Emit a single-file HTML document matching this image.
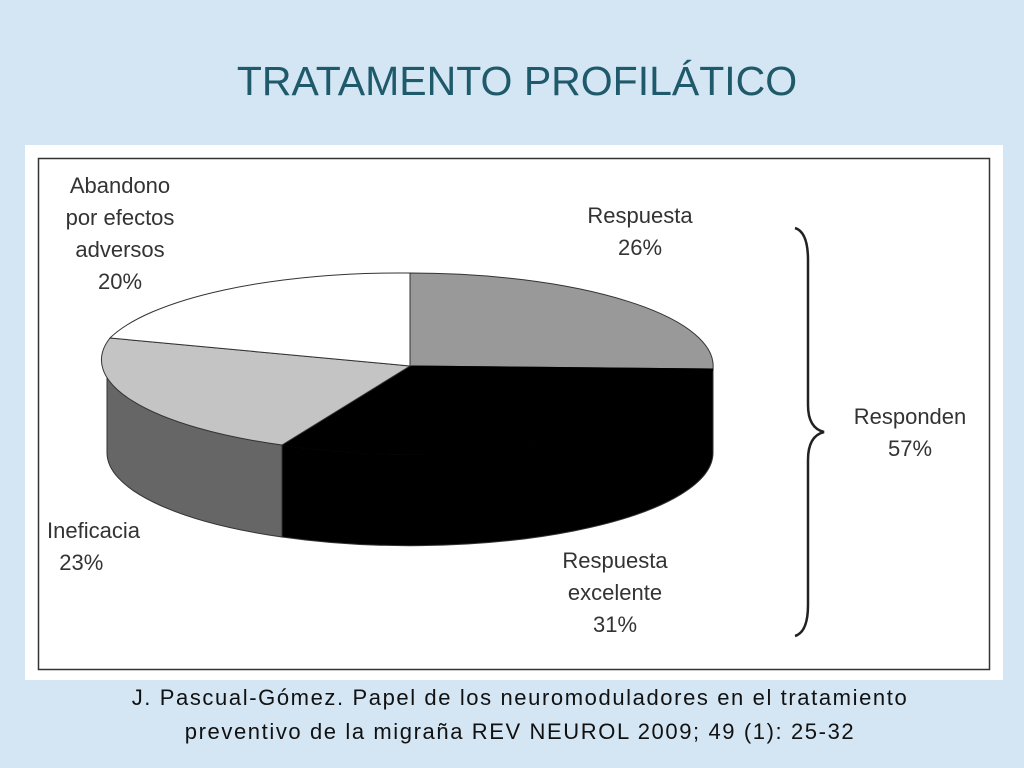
<!DOCTYPE html>
<html><head><meta charset="utf-8"><style>
body{margin:0;width:1024px;height:768px;background:#d4e5f3;font-family:"Liberation Sans",sans-serif;position:relative;overflow:hidden}
.t{position:absolute;white-space:nowrap}
.l{font-size:22px;line-height:32px;color:#333}
</style></head><body>
<div class="t" style="left:0;width:1034px;text-align:center;top:58px;font-size:41px;color:#1e5a6a;font-family:'Liberation Sans Narrow','Liberation Sans',sans-serif">TRATAMENTO PROFILÁTICO</div>
<div style="position:absolute;left:25px;top:145px;width:978px;height:535px;background:#fff"></div>
<svg style="position:absolute;left:0;top:0" width="1024" height="768">
<rect x="38.5" y="158.5" width="951" height="511" fill="none" stroke="#333" stroke-width="1.5"/>
<g stroke="#333" stroke-width="1">
<path d="M107,366 L107,452 A303,93 0 0 0 282,537 L282,445 A303,93 0 0 1 107,366 Z" fill="#666"/>
<path d="M282,445 L282,537 A303,93 0 0 0 713,452 L713,366 A303,93 0 0 1 282,445 Z" fill="#000"/>
<path d="M410,366 L410,273 A303,93 0 0 1 713,369 Z" fill="#999"/>
<path d="M410,366 L713,369 A303,93 0 0 1 282,445 Z" fill="#000" stroke="#000"/>
<path d="M410,366 L282,445 A303,93 0 0 1 110,338 Z" fill="#c4c4c4"/>
<path d="M410,366 L110,338 A303,93 0 0 1 410,273 Z" fill="#fff"/>
</g>
<path d="M795,228 Q808,232 808,260 L808,405 Q808,428 824,432 Q808,436 808,460 L808,605 Q808,632 795,636" fill="none" stroke="#222" stroke-width="2.5"/>
</svg>
<div class="t l" style="left:40px;width:160px;text-align:center;top:170px">Abandono<br>por efectos<br>adversos<br>20%</div>
<div class="t l" style="left:555px;width:170px;text-align:center;top:200px">Respuesta<br>26%</div>
<div class="t l" style="left:835px;width:150px;text-align:center;top:401px">Responden<br>57%</div>
<div class="t l" style="left:47px;top:515px">Ineficacia<br>&nbsp;&nbsp;23%</div>
<div class="t l" style="left:530px;width:170px;text-align:center;top:545px">Respuesta<br>excelente<br>31%</div>
<div class="t" style="left:0;width:1040px;text-align:center;top:681px;font-size:22px;letter-spacing:1.6px;line-height:34px;color:#111">J. Pascual-Gómez. Papel de los neuromoduladores en el tratamiento<br>preventivo de la migraña REV NEUROL 2009; 49 (1): 25-32</div>
</body></html>
